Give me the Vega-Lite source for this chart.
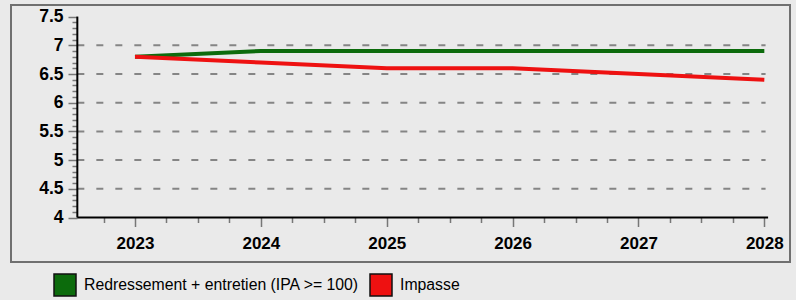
{
  "$schema": "https://vega.github.io/schema/vega-lite/v6.json",
  "width": 779,
  "height": 257,
  "autosize": {"type": "none"},
  "padding": {"left": 11, "top": 5, "right": 6, "bottom": 38},
  "background": "#eaeaea",
  "config": {
    "view": {"stroke": "#707070", "strokeWidth": 2, "fill": null},
    "font": "Liberation Sans"
  },
  "datasets": {
    "series": [
      {"year": 2023, "value": 6.8, "series": "Redressement + entretien (IPA >= 100)"},
      {"year": 2024, "value": 6.9, "series": "Redressement + entretien (IPA >= 100)"},
      {"year": 2025, "value": 6.9, "series": "Redressement + entretien (IPA >= 100)"},
      {"year": 2026, "value": 6.9, "series": "Redressement + entretien (IPA >= 100)"},
      {"year": 2027, "value": 6.9, "series": "Redressement + entretien (IPA >= 100)"},
      {"year": 2028, "value": 6.9, "series": "Redressement + entretien (IPA >= 100)"},
      {"year": 2023, "value": 6.8, "series": "Impasse"},
      {"year": 2024, "value": 6.7, "series": "Impasse"},
      {"year": 2025, "value": 6.6, "series": "Impasse"},
      {"year": 2026, "value": 6.6, "series": "Impasse"},
      {"year": 2027, "value": 6.5, "series": "Impasse"},
      {"year": 2028, "value": 6.4, "series": "Impasse"}
    ],
    "grid": [
      {"level": 4.5}, {"level": 5}, {"level": 5.5}, {"level": 6}, {"level": 6.5}, {"level": 7}
    ]
  },
  "layer": [
    {
      "data": {"name": "grid"},
      "mark": {"type": "rule", "stroke": "#858585", "strokeWidth": 2, "strokeDash": [7, 12]},
      "encoding": {
        "y": {
          "field": "level",
          "type": "quantitative",
          "scale": {"domain": [3.225, 7.702], "nice": false, "zero": false},
          "axis": {
            "orient": "left",
            "offset": -66,
            "domain": false,
            "grid": false,
            "title": null,
            "tickCount": 500,
            "values": [4, 4.1, 4.2, 4.3, 4.4, 4.5, 4.6, 4.7, 4.8, 4.9, 5, 5.1, 5.2, 5.3, 5.4, 5.5, 5.6, 5.7, 5.8, 5.9, 6, 6.1, 6.2, 6.3, 6.4, 6.5, 6.6, 6.7, 6.8, 6.9, 7, 7.1, 7.2, 7.3, 7.4, 7.5],
            "labelExpr": "round(datum.value * 10) % 5 === 0 ? '' + round(datum.value * 10) / 10 : ''",
            "tickSize": {"condition": {"test": "round(datum.value * 10) % 5 === 0", "value": 9}, "value": 5},
            "tickColor": "#777777",
            "tickWidth": 1.5,
            "labelPadding": 5,
            "labelFont": "Liberation Sans",
            "labelFontSize": 17.5,
            "labelFontWeight": "bold",
            "labelColor": "black",
            "labelFlush": false,
            "labelOverlap": false
          }
        },
        "x": {
          "datum": 2022.542,
          "type": "quantitative",
          "scale": {"domain": [2022.015, 2028.204], "nice": false, "zero": false},
          "axis": {
            "orient": "bottom",
            "offset": -44.5,
            "domain": false,
            "grid": false,
            "title": null,
            "tickCount": 500,
            "values": [2022.75, 2023, 2023.25, 2023.5, 2023.75, 2024, 2024.25, 2024.5, 2024.75, 2025, 2025.25, 2025.5, 2025.75, 2026, 2026.25, 2026.5, 2026.75, 2027, 2027.25, 2027.5, 2027.75, 2028],
            "labelExpr": "datum.value % 1 === 0 ? '' + datum.value : ''",
            "tickSize": {"condition": {"test": "datum.value % 1 === 0", "value": 9}, "value": 5},
            "tickColor": "#777777",
            "tickWidth": 1.5,
            "labelPadding": 9,
            "labelFont": "Liberation Sans",
            "labelFontSize": 17,
            "labelFontWeight": "bold",
            "labelColor": "black",
            "labelFlush": false,
            "labelOverlap": false
          }
        },
        "x2": {"datum": 2028.01}
      }
    },
    {
      "data": {"values": [{}]},
      "mark": {"type": "rule", "stroke": "black", "strokeWidth": 2},
      "encoding": {
        "x": {"datum": 2022.542, "type": "quantitative"},
        "y": {"datum": 4, "type": "quantitative"},
        "y2": {"datum": 7.5}
      }
    },
    {
      "data": {"values": [{}]},
      "mark": {"type": "rule", "stroke": "black", "strokeWidth": 2},
      "encoding": {
        "y": {"datum": 4, "type": "quantitative"},
        "x": {"datum": 2022.542, "type": "quantitative"},
        "x2": {"datum": 2028.03}
      }
    },
    {
      "data": {"name": "series"},
      "transform": [{"filter": "datum.series !== 'Impasse'"}],
      "mark": {"type": "line", "strokeWidth": 4, "stroke": "#0c6b0c"},
      "encoding": {
        "x": {"field": "year", "type": "quantitative"},
        "y": {"field": "value", "type": "quantitative"}
      }
    },
    {
      "data": {"name": "series"},
      "transform": [{"filter": "datum.series === 'Impasse'"}],
      "mark": {"type": "line", "strokeWidth": 4, "stroke": "#ee1111"},
      "encoding": {
        "x": {"field": "year", "type": "quantitative"},
        "y": {"field": "value", "type": "quantitative"}
      }
    },
    {
      "data": {"name": "series"},
      "transform": [{"filter": "datum.year > 3000"}],
      "mark": {"type": "point", "shape": "square", "filled": true, "stroke": "#111111", "strokeWidth": 1.5, "opacity": 1},
      "encoding": {
        "x": {"field": "year", "type": "quantitative"},
        "y": {"field": "value", "type": "quantitative"},
        "fill": {
          "field": "series",
          "type": "nominal",
          "sort": null,
          "scale": {"domain": ["Redressement + entretien (IPA >= 100)", "Impasse"], "range": ["#0c6b0c", "#ee1111"]},
          "legend": {
            "title": null,
            "orient": "none",
            "direction": "horizontal",
            "legendX": 42,
            "legendY": 268,
            "padding": 0,
            "symbolType": "square",
            "symbolSize": 484,
            "symbolStrokeWidth": 1.5,
            "symbolStrokeColor": "#111111",
            "symbolOpacity": 1,
            "labelFont": "Liberation Sans",
            "labelFontSize": 15.8,
            "labelColor": "black",
            "labelOffset": 7,
            "labelLimit": 400,
            "columnPadding": 8
          }
        }
      }
    }
  ]
}
